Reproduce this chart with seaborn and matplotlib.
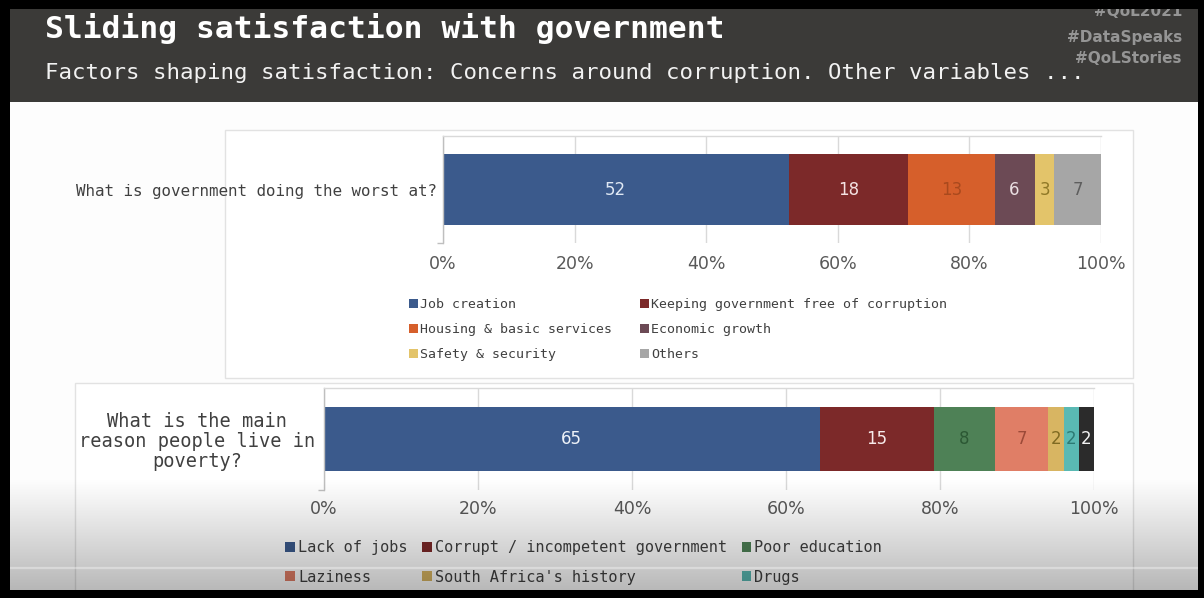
import numpy as np
import pandas as pd
import matplotlib
matplotlib.use("Agg")
import matplotlib.pyplot as plt
from matplotlib.patches import Rectangle, Patch
from matplotlib.lines import Line2D
from matplotlib.ticker import PercentFormatter
import seaborn as sns

# ---------------------------------------------------------------- data
question_1 = "What is government doing the worst at?"
reasons_1 = ["Job creation", "Keeping government free of corruption",
             "Housing & basic services", "Economic growth",
             "Safety & security", "Others"]
values_1 = [52, 18, 13, 6, 3, 7]

question_2 = "What is the main\nreason people live in\npoverty?"
reasons_2 = ["Lack of jobs", "Corrupt / incompetent government",
             "Poor education", "Laziness", "South Africa's history",
             "Drugs", "Other"]
values_2 = [65, 15, 8, 7, 2, 2, 2]

title = "Sliding satisfaction with government"
subtitle = "Factors shaping satisfaction: Concerns around corruption. Other variables ..."
hashtags = ["#QoL2021", "#DataSpeaks", "#QoLStories"]
tick_values = [0, 0.2, 0.4, 0.6, 0.8, 1.0]

# ---------------------------------------------------------------- styling
colors_1 = ["#3b5a8c", "#7c2929", "#d65f2b", "#6c4a55", "#e3c46a", "#a6a6a6"]
label_colors_1 = ["#dfe8f4", "#f4e2e2", "#a9491d", "#eadfe2", "#8f7826", "#5e5e5e"]
colors_2 = ["#3b5a8c", "#7c2929", "#4e8156", "#e07e66", "#d8b562", "#5ab9b3", "#2b2b2b"]
label_colors_2 = ["#eef2f8", "#f7eaea", "#2c5834", "#9c4a38", "#7f6a22", "#2d7a74", "#f2f2f2"]

MONO = "DejaVu Sans Mono"
SANS = "DejaVu Sans"

sns.set_theme(style="white")
plt.rcParams["font.family"] = [SANS]

W, H = 1204, 598
fig = plt.figure(figsize=(W / 100, H / 100), dpi=100)
fig.patch.set_facecolor("white")


def fx(x):
    return x / W


def fy(y):
    return 1 - y / H


def axes_rect(x0, y0, x1, y1):
    return [fx(x0), fy(y1), (x1 - x0) / W, (y1 - y0) / H]


def box(x0, y0, x1, y1, zorder=-5, **kw):
    fig.add_artist(Rectangle((fx(x0), fy(y1)), (x1 - x0) / W, (y1 - y0) / H,
                             transform=fig.transFigure, zorder=zorder, **kw))


# ---------------------------------------------------------------- slide background
box(0, 0, W, H, facecolor="#fdfdfd", edgecolor="none", zorder=-10)
box(0, 0, W, 102, facecolor="#3b3a38", edgecolor="none", zorder=-4)
box(225, 130, 1133, 378, facecolor="white", edgecolor="#e2e2e2", lw=1)
box(75, 383, 1133, 640, facecolor="white", edgecolor="#e2e2e2", lw=1)

fig.text(fx(45), fy(38), title, color="white", fontsize=22.5,
         family=MONO, fontweight="bold", va="baseline", ha="left", zorder=3)
fig.text(fx(45), fy(79), subtitle, color="#f2f2f2", fontsize=16.1,
         family=MONO, va="baseline", ha="left", zorder=3)
for tag, base in zip(hashtags, [16, 42, 63]):
    fig.text(fx(1182), fy(base), tag, color="#959595", fontsize=11,
             fontweight="bold", va="baseline", ha="right", zorder=3)


# ---------------------------------------------------------------- charts
def stacked_bar(ax, question, reasons, values, colors, label_colors,
                half_span, qsize, label_pad, x_pad):
    frame = pd.DataFrame({"row": 0, "reason": reasons, "share": values})
    sns.histplot(data=frame, y="row", hue="reason", weights="share",
                 multiple="fill", discrete=True, shrink=1.0,
                 hue_order=reasons[::-1], palette=dict(zip(reasons, colors)),
                 linewidth=0, alpha=1, legend=False, ax=ax)

    shares = np.asarray(values, dtype=float) / np.sum(values)
    centers = np.cumsum(shares) - shares / 2
    for c, v, tc in zip(centers, values, label_colors):
        ax.text(c, 0, str(v), ha="center", va="center", color=tc,
                fontsize=12, family=SANS, zorder=5)

    ax.set_xlim(0, 1)
    ax.set_ylim(-half_span, half_span)
    ax.set_facecolor("none")
    ax.set_xlabel("")
    ax.set_ylabel("")
    ax.set_xticks(tick_values)
    ax.xaxis.set_major_formatter(PercentFormatter(1.0, decimals=0))
    ax.tick_params(axis="x", length=0, pad=x_pad, labelsize=12.5,
                   labelcolor="#595959")
    ax.set_yticks([0], [question])
    ax.set_yticks([-half_span], minor=True)
    ax.tick_params(axis="y", which="major", length=0, pad=label_pad,
                   labelsize=qsize, labelcolor="#404040")
    ax.tick_params(axis="y", which="minor", length=4, width=1,
                   color="#bfbfbf", left=True)
    for lbl in ax.get_yticklabels():
        lbl.set_family(MONO)
        lbl.set_multialignment("center")
        lbl.set_linespacing(1.05)
    ax.grid(axis="x", color="#d9d9d9", lw=1)
    ax.grid(axis="y", visible=False)
    ax.set_axisbelow(True)
    for side in ("right", "bottom"):
        ax.spines[side].set_visible(False)
    ax.spines["top"].set_color("#d9d9d9")
    ax.spines["left"].set_color("#bfbfbf")
    for s in ax.spines.values():
        s.set_linewidth(1)


def add_legend(ax, reasons, colors, order, ncol, anchor, size, spacing, colsp):
    handles = [Patch(facecolor=colors[i], edgecolor="none") for i in order]
    labels = [reasons[i] for i in order]
    ax.legend(handles, labels, loc="upper left",
              bbox_to_anchor=(fx(anchor[0]), fy(anchor[1])),
              bbox_transform=fig.transFigure, ncol=ncol, frameon=False,
              prop={"family": MONO, "size": size}, labelcolor="#404040",
              handlelength=0.65, handleheight=0.65, handletextpad=0.2,
              columnspacing=colsp, labelspacing=spacing,
              borderpad=0, borderaxespad=0)


ax1 = fig.add_axes(axes_rect(443, 136, 1101, 243))
stacked_bar(ax1, question_1, reasons_1, values_1, colors_1, label_colors_1,
            half_span=0.75, qsize=11.4, label_pad=4.3, x_pad=8.5)
add_legend(ax1, reasons_1, colors_1, [0, 2, 4, 1, 3, 5], 2, (409, 298),
           9.5, 0.9, 2.1)

ax2 = fig.add_axes(axes_rect(324, 388, 1094, 490))
stacked_bar(ax2, question_2, reasons_2, values_2, colors_2, label_colors_2,
            half_span=0.8, qsize=13.4, label_pad=6.5, x_pad=7)
# the last legend row falls below the visible slide area, so only the first two rows are listed
add_legend(ax2, reasons_2, colors_2, [0, 3, 1, 4, 2, 5], 3, (285, 540),
           11, 0.95, 0.95)

# ---------------------------------------------------------------- player shading at the bottom
shade = fig.add_axes(axes_rect(10, 478, 1198, 590), zorder=10)
ramp = np.linspace(0, 1, 200) ** 1.05 * 0.28
rgba = np.zeros((200, 2, 4))
rgba[..., 3] = ramp[:, None]
shade.imshow(rgba, aspect="auto", extent=(0, 1, 1, 0), interpolation="bilinear")
shade.set_axis_off()
shade.set_xlim(0, 1)
shade.set_ylim(1, 0)
fig.add_artist(Line2D([fx(10), fx(1198)], [fy(568), fy(568)], color="white",
                      alpha=0.35, lw=1.6, transform=fig.transFigure, zorder=11))

# ---------------------------------------------------------------- outer frame
for rect in [(0, 0, W, 9), (0, 0, 10, H), (1198, 0, W, H), (0, 590, W, H)]:
    box(*rect, facecolor="black", edgecolor="none", zorder=20)

fig.savefig("out.png", dpi=100)
